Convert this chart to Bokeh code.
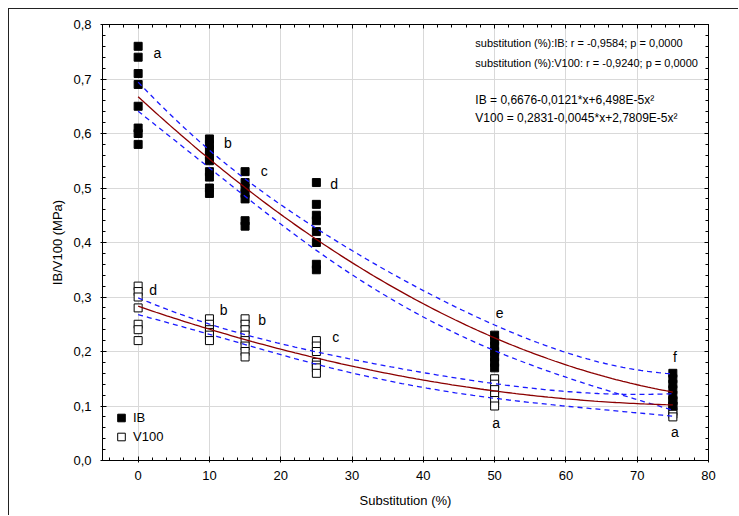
import numpy as np
from bokeh.plotting import figure
from bokeh.models import (Range1d, FixedTicker, LinearAxis, CustomJSTickFormatter,
                          Label, Legend, LegendItem, ColumnDataSource)
from bokeh.core.properties import value
from bokeh.embed import file_html
from bokeh.resources import INLINE

# ---------------- data ----------------
ib_x = [0]*8 + [10]*9 + [15]*7 + [25]*8 + [50]*7 + [75]*7
ib_y = [0.76, 0.74, 0.71, 0.69, 0.65, 0.61, 0.60, 0.58,
        0.59, 0.58, 0.57, 0.56, 0.55, 0.53, 0.52, 0.50, 0.49,
        0.53, 0.51, 0.50, 0.49, 0.48, 0.44, 0.43,
        0.51, 0.47, 0.45, 0.44, 0.42, 0.40, 0.36, 0.35,
        0.23, 0.22, 0.21, 0.20, 0.19, 0.18, 0.17,
        0.16, 0.15, 0.14, 0.13, 0.12, 0.11, 0.10]

v_x = [0]*7 + [10]*6 + [15]*8 + [25]*7 + [50]*6 + [75]*5
v_y = [0.32, 0.31, 0.30, 0.28, 0.25, 0.24, 0.22,
       0.26, 0.25, 0.24, 0.235, 0.23, 0.22,
       0.26, 0.25, 0.24, 0.23, 0.22, 0.21, 0.20, 0.19,
       0.22, 0.21, 0.20, 0.18, 0.175, 0.17, 0.16,
       0.15, 0.14, 0.13, 0.12, 0.11, 0.10,
       0.11, 0.10, 0.09, 0.085, 0.08]

ib_coef = [0.6676, -0.0121, 6.498e-5]
v_coef = [0.2831, -0.0045, 2.7809e-5]

ib_letters = ["a", "b", "c", "d", "e", "f"]
ib_letter_x = [2.7, 12.6, 17.7, 27.5, 50.7, 75.3]
ib_letter_y = [0.748, 0.583, 0.531, 0.508, 0.270, 0.190]
v_letters = ["d", "b", "b", "c", "a", "a"]
v_letter_x = [2.1, 12.0, 17.4, 27.7, 50.2, 75.3]
v_letter_y = [0.313, 0.276, 0.258, 0.226, 0.068, 0.052]

x_ticks = [0, 10, 20, 30, 40, 50, 60, 70, 80]
y_ticks = [0.0, 0.1, 0.2, 0.3, 0.4, 0.5, 0.6, 0.7, 0.8]

stats_lines = ["substitution (%):IB: r = -0,9584; p = 0,0000",
               "substitution (%):V100: r = -0,9240; p = 0,0000",
               "IB = 0,6676-0,0121*x+6,498E-5x\u00b2",
               "V100 = 0,2831-0,0045*x+2,7809E-5x\u00b2"]

# ---------------- fit curves & confidence bands ----------------
T975 = 2.02
xs = np.linspace(0, 75, 151)

def fit_band(x, y, coef):
    x = np.asarray(x, float); y = np.asarray(y, float)
    X = np.column_stack([np.ones_like(x), x, x**2])
    yhat = X @ np.asarray(coef)
    n = len(x)
    s = np.sqrt(np.sum((y - yhat)**2) / (n - 3))
    XtXi = np.linalg.inv(X.T @ X)
    X0 = np.column_stack([np.ones_like(xs), xs, xs**2])
    y0 = X0 @ np.asarray(coef)
    h = np.einsum("ij,jk,ik->i", X0, XtXi, X0)
    half = T975 * s * np.sqrt(h)
    return y0, y0 - half, y0 + half

ib_fit, ib_lo, ib_hi = fit_band(ib_x, ib_y, ib_coef)
v_fit, v_lo, v_hi = fit_band(v_x, v_y, v_coef)

# ---------------- figure ----------------
FONT = "Liberation Sans"
p = figure(width=730, height=507, output_backend="svg", toolbar_location=None,
           x_range=Range1d(-5, 80), y_range=Range1d(0, 0.8),
           min_border_left=93, min_border_right=31, min_border_top=15, min_border_bottom=56)
p.styles = {"margin-left": "8px", "margin-top": "8px",
            "border-top": "1px solid #222", "border-left": "1px solid #222"}
p.background_fill_color = "white"
p.border_fill_color = "white"
p.outline_line_color = "black"
p.outline_line_width = 1

xt = FixedTicker(ticks=x_ticks, minor_ticks=list(range(-4, 80, 2)))
yt = FixedTicker(ticks=y_ticks, minor_ticks=[round(i*0.02, 2) for i in range(41)])

def style_axis(ax):
    ax.axis_line_color = "black"
    ax.major_tick_in = 4
    ax.major_tick_out = 2
    ax.minor_tick_in = 3
    ax.minor_tick_out = 0
    ax.major_tick_line_color = "black"
    ax.minor_tick_line_color = "black"
    ax.major_label_text_font = FONT
    ax.major_label_text_font_size = "13px"
    ax.major_label_text_color = "black"

p.xaxis.ticker = xt
p.yaxis.ticker = yt
p.xaxis.formatter = CustomJSTickFormatter(code="return tick.toFixed(0);")
p.yaxis.formatter = CustomJSTickFormatter(code="return tick.toFixed(1).replace('.', ',');")
style_axis(p.xaxis[0])
style_axis(p.yaxis[0])
p.xaxis.major_label_standoff = 8
p.yaxis.major_label_standoff = 9
p.xaxis.axis_label = "Substitution (%)"
p.yaxis.axis_label = "IB/V100 (MPa)"
for ax in (p.xaxis[0], p.yaxis[0]):
    ax.axis_label_text_font = FONT
    ax.axis_label_text_font_size = "13px"
    ax.axis_label_text_font_style = "normal"
    ax.axis_label_text_color = "black"
p.xaxis.axis_label_standoff = 10
p.yaxis.axis_label_standoff = 5

empty_fmt = CustomJSTickFormatter(code="return '';")
top_ax = LinearAxis(ticker=xt, formatter=empty_fmt)
right_ax = LinearAxis(ticker=yt, formatter=empty_fmt)
for ax in (top_ax, right_ax):
    style_axis(ax)
    ax.major_tick_out = 0
    ax.major_label_standoff = 0
p.add_layout(top_ax, "above")
p.add_layout(right_ax, "right")

p.xgrid.ticker = xt
p.ygrid.ticker = yt
p.xgrid.grid_line_color = "#d9d9d9"
p.ygrid.grid_line_color = "#d9d9d9"

# markers
v_r = p.scatter(v_x, v_y, marker="square", size=8, fill_color="white",
                line_color="black", line_width=1)
ib_r = p.scatter(ib_x, ib_y, marker="square", size=8, fill_color="black",
                 line_color="black", line_width=1)

# bands and fits
band_kw = dict(line_color="#1a1aff", line_width=1.3, line_dash="5 4")
p.line(xs, ib_lo, **band_kw)
p.line(xs, ib_hi, **band_kw)
p.line(xs, v_lo, **band_kw)
p.line(xs, v_hi, **band_kw)
p.line(xs, ib_fit, line_color="#8b0000", line_width=1.3)
p.line(xs, v_fit, line_color="#8b0000", line_width=1.3)

# letters
letter_src = ColumnDataSource(dict(x=ib_letter_x + v_letter_x,
                                   y=ib_letter_y + v_letter_y,
                                   t=ib_letters + v_letters))
p.text(x="x", y="y", text="t", source=letter_src, text_font=value(FONT),
       text_font_size="14px", text_align="center", text_baseline="middle",
       text_color="black")

# statistics text
stats_y = [0.7656, 0.730, 0.661, 0.628]
stats_size = ["11px", "11px", "12px", "12px"]
for line, yy, fs in zip(stats_lines, stats_y, stats_size):
    p.add_layout(Label(x=47.3, y=yy, text=line, text_font=FONT, text_font_size=fs,
                       text_baseline="middle", text_color="black"))

legend = Legend(items=[LegendItem(label="IB", renderers=[ib_r]),
                       LegendItem(label="V100", renderers=[v_r])],
                location=(9, 14), padding=0, margin=0, spacing=0,
                glyph_width=20, glyph_height=19, label_standoff=2,
                label_text_font=FONT, label_text_font_size="13px",
                label_text_color="black",
                border_line_alpha=0, background_fill_alpha=0)
p.add_layout(legend)

open("out.html", "w").write(file_html(p, INLINE))
